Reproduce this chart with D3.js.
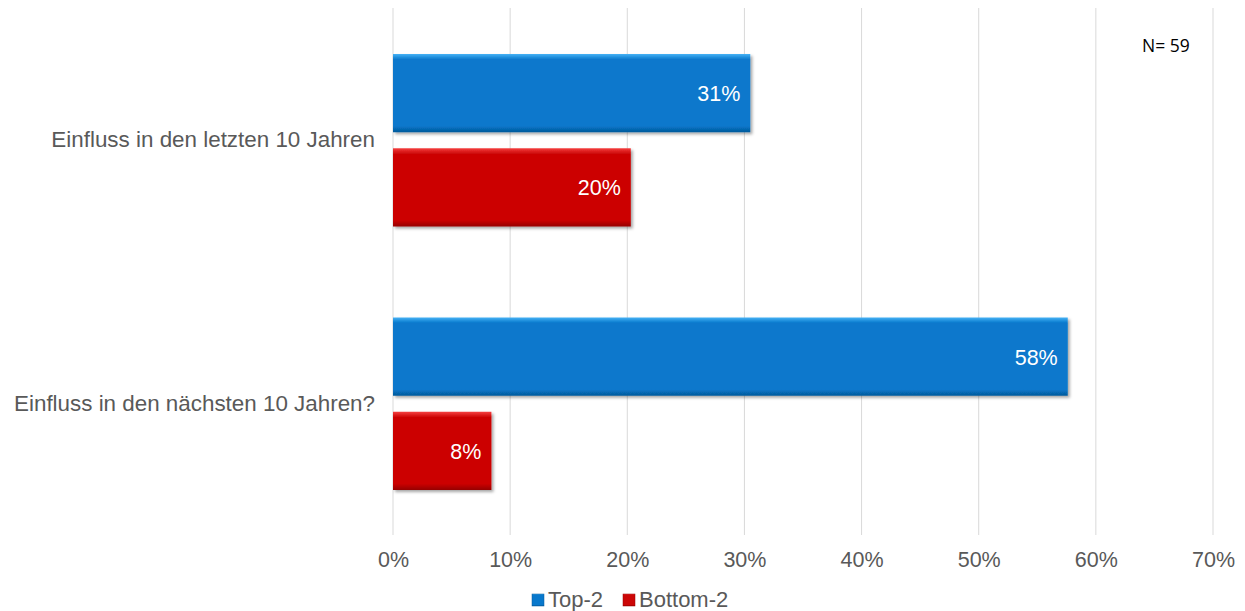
<!DOCTYPE html>
<html><head><meta charset="utf-8">
<script src="https://cdn.jsdelivr.net/npm/d3@7"></script>
<style>body{margin:0;background:#fff;}svg{display:block;font-family:"Liberation Sans",Arial,sans-serif;}</style>
</head><body><svg id="c" width="1245" height="611"></svg>
<script>
const categories = ["Einfluss in den letzten 10 Jahren", "Einfluss in den nächsten 10 Jahren?"];
const seriesNames = ["Top-2", "Bottom-2"];
const top2 = [30.5, 57.6];
const bottom2 = [20.3, 8.4];
const labelsTop2 = ["31%", "58%"];
const labelsBottom2 = ["20%", "8%"];
const tickValues = [0, 10, 20, 30, 40, 50, 60, 70];
const note = "N= 59";

const colors = {"Top-2": ["#45b2f5", "#0878cc", "#05599a"], "Bottom-2": ["#f54040", "#cc0606", "#950000"]};
const FS = "21.5px";

const svg = d3.select("#c");
const m = {l: 393, r: 1213, t: 8, b: 535};
const x = d3.scaleLinear().domain([0, 70]).range([m.l, m.r]);
const y = d3.scaleBand().domain(categories).range([m.t, m.b]);
const inner = d3.scaleBand().domain(seriesNames).range([46, y.bandwidth() - 45]).paddingInner(0.17);

const defs = svg.append("defs");
seriesNames.forEach((s, i) => {
  const g = defs.append("linearGradient").attr("id", "g" + i).attr("x1", 0).attr("y1", 0).attr("x2", 0).attr("y2", 1);
  g.append("stop").attr("offset", "0").attr("stop-color", colors[s][0]);
  g.append("stop").attr("offset", "0.07").attr("stop-color", colors[s][1]);
  g.append("stop").attr("offset", "0.92").attr("stop-color", colors[s][1]);
  g.append("stop").attr("offset", "1").attr("stop-color", colors[s][2]);
});
const f = defs.append("filter").attr("id", "sh").attr("x", "-5%").attr("y", "-10%").attr("width", "115%").attr("height", "130%");
f.append("feDropShadow").attr("dx", 2).attr("dy", 2).attr("stdDeviation", 1.5).attr("flood-color", "#000").attr("flood-opacity", 0.35);

// gridlines
svg.append("g").selectAll("line").data(tickValues).join("line")
  .attr("x1", d => x(d)).attr("x2", d => x(d)).attr("y1", m.t).attr("y2", m.b)
  .attr("stroke", "#d9d9d9").attr("stroke-width", 1);

// axis
const ax = svg.append("g").attr("transform", `translate(0,${m.b})`)
  .call(d3.axisBottom(x).tickValues(tickValues).tickFormat(d => d + "%").tickSize(0).tickPadding(17));
ax.select(".domain").remove();
ax.selectAll("text").attr("fill", "#595959").attr("font-size", FS).attr("font-family", "Liberation Sans, Arial, sans-serif");

// category labels
svg.append("g").selectAll("text").data(categories).join("text")
  .attr("x", 375).attr("y", d => y(d) + y.bandwidth() / 2 + 7.5)
  .attr("text-anchor", "end").attr("fill", "#595959").attr("font-size", "22.4px").text(d => d);

const rows = [];
categories.forEach((c, i) => {
  rows.push({c, s: "Top-2", v: top2[i], lab: labelsTop2[i], gi: 0});
  rows.push({c, s: "Bottom-2", v: bottom2[i], lab: labelsBottom2[i], gi: 1});
});

const bars = svg.append("g");
bars.selectAll("rect").data(rows).join("rect")
  .attr("x", x(0)).attr("y", d => y(d.c) + inner(d.s))
  .attr("width", d => x(d.v) - x(0)).attr("height", inner.bandwidth())
  .attr("fill", d => `url(#g${d.gi})`).attr("filter", "url(#sh)");

bars.selectAll("text").data(rows).join("text")
  .attr("x", d => x(d.v) - 10).attr("y", d => y(d.c) + inner(d.s) + inner.bandwidth() / 2 + 8)
  .attr("text-anchor", "end").attr("fill", "#fff").attr("font-size", FS).text(d => d.lab);

// note
svg.append("text").attr("x", 1142).attr("y", 52).attr("font-size", "17.5px").attr("fill", "#000")
  .attr("font-family", "Open Sans, sans-serif").text(note);

// legend
const leg = svg.append("g").attr("transform", "translate(532,607)");
const items = [{s: "Top-2", gi: 0, dx: 0}, {s: "Bottom-2", gi: 1, dx: 91}];
items.forEach(it => {
  leg.append("rect").attr("x", it.dx).attr("y", -13).attr("width", 12).attr("height", 12)
    .attr("fill", `url(#g${it.gi})`).attr("stroke", it.gi ? "#900" : "#05599a").attr("stroke-width", 0.5);
  leg.append("text").attr("x", it.dx + 16).attr("y", 0).attr("font-size", "22px").attr("fill", "#595959").text(it.s);
});
</script></body></html>
